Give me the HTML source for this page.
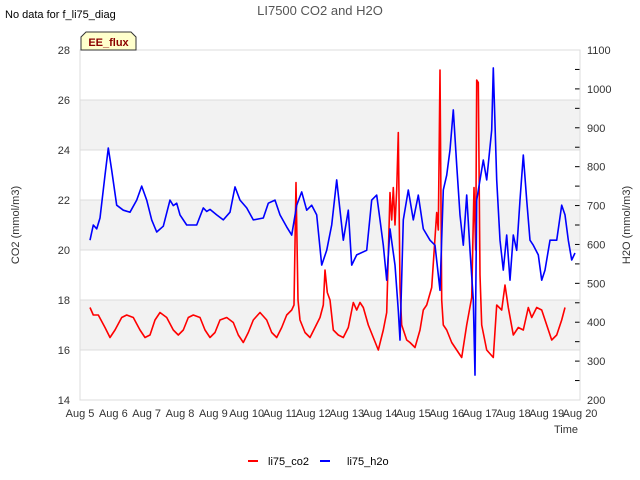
<!DOCTYPE html>
<html><head><meta charset="utf-8"><style>
body{margin:0;background:#fff;}
svg{display:block;font-family:"Liberation Sans","DejaVu Sans",sans-serif;}
</style></head><body>
<svg id="chart" width="640" height="480" viewBox="0 0 640 480" xmlns="http://www.w3.org/2000/svg">
<text x="320" y="15" text-anchor="middle" font-size="13" fill="#555">LI7500 CO2 and H2O</text>
<text x="5" y="18" font-size="11" fill="#000">No data for f_li75_diag</text>
<g id="bands"></g>
<g id="grid"></g>
<g id="series"></g>
<g id="axes"></g>
<g>
<path d="M81,50 L81,37 L86,32 L131,32 L136,37 L136,50 Z" fill="#ffffcc" stroke="#333" stroke-width="1"/>
<text x="108.5" y="46" text-anchor="middle" font-size="11" font-weight="bold" fill="#8b0000">EE_flux</text>
</g>
<text transform="translate(19,225) rotate(-90)" text-anchor="middle" font-size="11" fill="#333">CO2 (mmol/m3)</text>
<text transform="translate(630,225) rotate(-90)" text-anchor="middle" font-size="11" fill="#333">H2O (mmol/m3)</text>
<text x="578" y="433" text-anchor="end" font-size="11" fill="#333">Time</text>
<g>
<line x1="248" y1="461" x2="258" y2="461" stroke="#ff0000" stroke-width="2"/>
<text x="268" y="465" font-size="11" fill="#000">li75_co2</text>
<line x1="320" y1="461" x2="330" y2="461" stroke="#0000ff" stroke-width="2"/>
<text x="347" y="465" font-size="11" fill="#000">li75_h2o</text>
</g>
</svg>
<script>
const xTickLabels=["Aug 5","Aug 6","Aug 7","Aug 8","Aug 9","Aug 10","Aug 11","Aug 12","Aug 13","Aug 14","Aug 15","Aug 16","Aug 17","Aug 18","Aug 19","Aug 20"];
const leftTicks=[14,16,18,20,22,24,26,28];
const rightTicks=[200,300,400,500,600,700,800,900,1000,1100];
const co2Time=[0.3,0.4,0.55,0.75,0.9,1.05,1.25,1.4,1.6,1.8,1.95,2.1,2.25,2.4,2.6,2.8,2.95,3.1,3.25,3.4,3.6,3.75,3.9,4.05,4.2,4.4,4.6,4.75,4.9,5.05,5.2,5.4,5.6,5.75,5.9,6.05,6.2,6.35,6.42,6.48,6.54,6.6,6.75,6.9,7.05,7.2,7.3,7.35,7.42,7.5,7.6,7.75,7.9,8.05,8.2,8.3,8.4,8.5,8.65,8.8,8.95,9.1,9.2,9.3,9.35,9.4,9.45,9.5,9.55,9.6,9.65,9.8,9.9,10.05,10.2,10.3,10.4,10.55,10.7,10.75,10.8,10.85,10.9,11.0,11.15,11.3,11.45,11.6,11.75,11.82,11.87,11.9,11.95,12.0,12.05,12.2,12.4,12.5,12.65,12.75,12.85,13.0,13.15,13.3,13.45,13.55,13.7,13.85,14.0,14.15,14.3,14.45,14.55];
const co2Values=[17.7,17.4,17.4,16.9,16.5,16.8,17.3,17.4,17.3,16.8,16.5,16.6,17.2,17.5,17.3,16.8,16.6,16.8,17.3,17.4,17.3,16.8,16.5,16.7,17.2,17.3,17.1,16.6,16.3,16.7,17.2,17.5,17.2,16.7,16.5,16.9,17.4,17.6,17.8,22.7,18.0,17.2,16.7,16.5,16.9,17.3,17.8,19.2,18.3,18.0,16.8,16.6,16.5,16.9,17.9,17.6,17.9,17.7,17.0,16.5,16.0,16.8,17.5,22.3,21.2,22.5,21.0,22.4,24.7,18.5,17.0,16.4,16.3,16.1,16.8,17.6,17.8,18.5,21.5,20.8,27.2,18.0,17.0,16.8,16.3,16.0,15.7,17.0,18.1,22.5,20.0,26.8,26.7,19.0,17.0,16.0,15.7,17.8,17.6,18.6,17.7,16.6,16.9,16.8,17.7,17.3,17.7,17.6,17.0,16.4,16.6,17.2,17.7];
const h2oTime=[0.3,0.4,0.5,0.6,0.75,0.85,0.95,1.1,1.3,1.5,1.7,1.85,2.0,2.15,2.3,2.5,2.7,2.8,2.9,3.0,3.2,3.5,3.7,3.8,3.9,4.1,4.3,4.5,4.65,4.8,5.0,5.2,5.5,5.65,5.85,6.0,6.2,6.35,6.5,6.65,6.8,6.95,7.1,7.25,7.4,7.55,7.7,7.8,7.9,8.05,8.15,8.3,8.6,8.75,8.9,9.0,9.1,9.2,9.3,9.45,9.55,9.6,9.7,9.85,10.0,10.15,10.3,10.5,10.65,10.8,10.9,11.0,11.1,11.2,11.3,11.4,11.5,11.6,11.7,11.8,11.85,11.9,12.0,12.1,12.2,12.35,12.4,12.5,12.6,12.7,12.8,12.9,13.0,13.1,13.2,13.3,13.4,13.5,13.6,13.75,13.85,13.95,14.1,14.3,14.45,14.55,14.65,14.75,14.85];
const h2oValues=[611,650,640,668,778,848,791,701,688,683,714,750,714,663,632,647,714,700,706,676,650,650,694,685,690,676,663,683,748,714,694,663,668,706,714,676,645,624,701,735,688,701,676,547,585,650,766,688,611,688,547,573,585,714,727,663,598,508,640,547,430,354,663,740,663,727,640,611,598,482,740,778,843,946,804,676,598,727,585,457,264,714,766,817,766,894,1054,766,611,534,624,508,624,585,714,830,714,611,598,573,508,534,611,611,701,676,611,560,578];
const NS="http://www.w3.org/2000/svg";
const X0=80,X1=580,Y0=50,Y1=400;
function xs(t){return X0+(X1-X0)*t/15;}
function yl(v){return Y1-(Y1-Y0)*(v-14)/14;}
function yr(v){return Y1-(Y1-Y0)*(v-200)/900;}
function mk(tag,attrs,parent){const e=document.createElementNS(NS,tag);for(const k in attrs)e.setAttribute(k,attrs[k]);parent.appendChild(e);return e;}
const bands=document.getElementById('bands'),grid=document.getElementById('grid'),series=document.getElementById('series'),axes=document.getElementById('axes');
for(let i=0;i<leftTicks.length-1;i++){
  if(i%2===1){
    const r=mk('rect',{x:X0,y:yl(leftTicks[i+1]),width:X1-X0,height:yl(leftTicks[i])-yl(leftTicks[i+1]),fill:'#f2f2f2'},bands);
    
    
  }
}
leftTicks.forEach(v=>{
  const g=mk('line',{x1:X0,x2:X1,y1:yl(v),y2:yl(v),stroke:'#dcdcdc','stroke-width':1},grid);
  
  
  const t=mk('text',{x:X0-10,y:yl(v)+4,'text-anchor':'end','font-size':11,fill:'#333'},axes);
  
  
  t.textContent=v;
});
rightTicks.forEach(v=>{
  const t=mk('text',{x:X1+7,y:yr(v)+4,'font-size':11,fill:'#333'},axes);
  
  
  t.textContent=v;
});
for(let v=200;v<=1100;v+=50){
  const l=mk('line',{x1:X1-5,x2:X1,y1:yr(v),y2:yr(v),stroke:'#000','stroke-width':1},axes);
  
  
}
mk('rect',{x:X0,y:Y0,width:X1-X0,height:Y1-Y0,fill:'none',stroke:'#dcdcdc','stroke-width':1},axes);
xTickLabels.forEach((s,i)=>{
  const t=mk('text',{x:xs(i),y:Y1+17,'text-anchor':'middle','font-size':11,fill:'#333'},axes);
  
  
  t.textContent=s;
});
function line(ts,vs,yf,col,name){
  const d=ts.map((t,i)=>(i?'L':'M')+xs(t).toFixed(1)+','+yf(vs[i]).toFixed(1)).join('');
  const p=mk('path',{d:d,fill:'none',stroke:col,'stroke-width':1.6,'stroke-linejoin':'round'},series);
  
  
}
line(co2Time,co2Values,yl,'#ff0000','co2-line');
line(h2oTime,h2oValues,yr,'#0000ff','h2o-line');
</script>
</body></html>
